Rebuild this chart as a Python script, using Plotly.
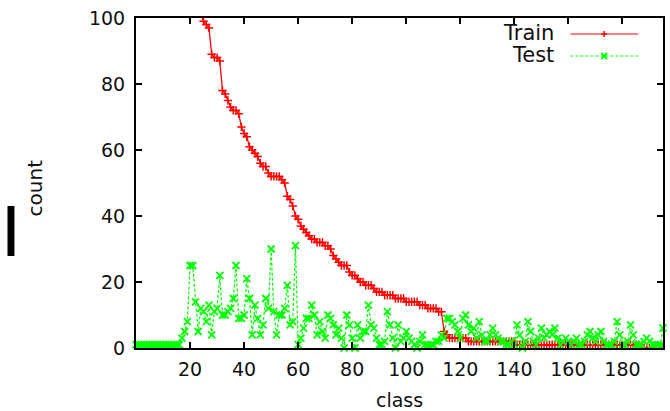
import plotly.graph_objects as go

# ---------------- data ----------------
classes = list(range(0, 196))

train = [
    450, 380, 330, 290, 260, 240, 220, 205, 190, 178,
    168, 158, 150, 143, 137, 131, 126, 121, 117, 113,
    110, 107, 104, 102, 101, 99, 98, 97, 89, 88,
    88, 87, 78, 77, 75, 73, 72, 72, 71, 67,
    65, 64, 61, 60, 59, 58, 56, 55, 55, 53,
    52, 52, 52, 52, 51, 50, 46, 45, 43, 40,
    39, 37, 36, 35, 34, 33, 33, 32, 32, 32,
    31, 31, 30, 28, 27, 26, 25, 25, 25, 23,
    22, 22, 21, 20, 20, 19, 19, 19, 18, 17,
    17, 17, 16, 16, 16, 16, 15, 15, 15, 15,
    14, 14, 14, 14, 14, 13, 13, 13, 12, 12,
    12, 12, 11, 11, 5, 4, 3, 3, 3, 3,
    3, 3, 3, 2, 2, 2, 2, 2, 2, 2,
    2, 2, 2, 2, 2, 2, 2, 2, 2, 2,
    2, 1, 1, 1, 1, 1, 1, 1, 1, 1,
    1, 1, 1, 1, 1, 1, 1, 1, 1, 1,
    1, 1, 1, 1, 1, 1, 1, 1, 1, 1,
    1, 1, 1, 1, 1, 1, 1, 1, 1, 1,
    1, 1, 1, 1, 1, 1, 1, 0, 0, 0,
    0, 0, 0, 0, 0, 0,
]

test = [
    1, 1, 1, 1, 1, 1, 1, 1, 1, 1,
    1, 1, 1, 1, 1, 1, 1, 3, 5, 8,
    25, 25, 14, 5, 12, 11, 8, 13, 4, 11,
    12, 22, 10, 10, 11, 12, 15, 25, 9, 9,
    10, 21, 15, 4, 13, 9, 4, 7, 15, 12,
    30, 11, 4, 10, 10, 12, 19, 7, 8, 31,
    1, 3, 6, 9, 9, 13, 10, 4, 8, 5,
    3, 10, 9, 7, 4, 6, 3, 0, 10, 7,
    3, 0, 7, 3, 5, 5, 13, 7, 6, 3,
    1, 1, 2, 11, 7, 3, 0, 7, 2, 3,
    5, 3, 2, 1, 0, 2, 4, 1, 1, 1,
    1, 2, 2, 4, 3, 9, 9, 8, 7, 5,
    3, 9, 10, 7, 5, 6, 3, 8, 4, 2,
    2, 4, 6, 4, 3, 2, 2, 1, 1, 2,
    1, 7, 4, 0, 2, 8, 5, 2, 1, 3,
    6, 3, 4, 5, 4, 6, 3, 1, 2, 3,
    2, 1, 2, 3, 1, 1, 2, 4, 5, 3,
    2, 4, 5, 2, 1, 1, 1, 2, 8, 4,
    1, 1, 2, 7, 4, 1, 1, 1, 2, 3,
    2, 1, 1, 1, 1, 6,
]

x_ticks = [20, 40, 60, 80, 100, 120, 140, 160, 180]
y_ticks = [0, 20, 40, 60, 80, 100]
series_names = ["Train", "Test"]

# ---------------- layout constants ----------------
W, H = 670, 411
ML, MR, MT, MB = 136, 5, 18, 63
PW, PH = W - ML - MR, H - MT - MB
FONT = "DejaVu Sans, Liberation Sans, Arial, sans-serif"
RED = "#ff0000"
GREEN = "#00ff00"


def px(xp):
    return (xp - ML) / PW


def py(yp):
    return (H - MB - yp) / PH


fig = go.Figure()

fig.add_trace(go.Scatter(
    x=classes, y=train, name=series_names[0], mode="lines+markers",
    line=dict(color=RED, width=1.3),
    marker=dict(symbol="cross-thin", size=6, line=dict(color=RED, width=1.5)),
    showlegend=False,
))
fig.add_trace(go.Scatter(
    x=classes, y=test, name=series_names[1], mode="lines+markers",
    line=dict(color=GREEN, width=1.2, dash="3px,2px"),
    marker=dict(symbol="x-thin", size=7, line=dict(color=GREEN, width=1.8)),
    cliponaxis=False, showlegend=False,
))

axis_common = dict(
    showline=True, linecolor="black", linewidth=2, mirror="allticks",
    ticks="inside", ticklen=6, tickwidth=2, tickcolor="black",
    showgrid=False, zeroline=False,
    tickfont=dict(family=FONT, size=19, color="#111111"),
)

fig.update_xaxes(range=[0, 195], tickvals=x_ticks, ticklabelstandoff=3, **axis_common)
fig.update_yaxes(range=[0, 100], tickvals=y_ticks, ticklabelstandoff=5, **axis_common)

shapes = []
annotations = []

# axis titles
annotations.append(dict(text="class", xref="paper", yref="paper",
                        x=px(400), y=py(400), xanchor="center", yanchor="middle",
                        showarrow=False, font=dict(family=FONT, size=19, color="#111111")))
annotations.append(dict(text="count", xref="paper", yref="paper",
                        x=px(35), y=py(188), xanchor="center", yanchor="middle",
                        textangle=-90, showarrow=False,
                        font=dict(family=FONT, size=20, color="#111111")))

# black bar artifact at left
shapes.append(dict(type="rect", xref="paper", yref="paper",
                   x0=px(7), x1=px(14), y0=py(256), y1=py(206),
                   fillcolor="black", line=dict(width=0)))

# manual gnuplot-style key (text left, sample right)
key_rows = [(series_names[0], 33, RED, "solid"), (series_names[1], 55, GREEN, "3px,2px")]
for name, yk, col, dash in key_rows:
    annotations.append(dict(text=name, xref="paper", yref="paper",
                            x=px(558), y=py(yk), xanchor="right", yanchor="middle",
                            showarrow=False, font=dict(family=FONT, size=21, color="#111111")))
    shapes.append(dict(type="line", xref="paper", yref="paper",
                       x0=px(572), x1=px(640), y0=py(yk + 1), y1=py(yk + 1),
                       line=dict(color=col, width=1, dash=dash)))
    if name == "Train":
        shapes.append(dict(type="line", xref="paper", yref="paper",
                           x0=px(603), x1=px(609), y0=py(yk + 1), y1=py(yk + 1),
                           line=dict(color=col, width=1.5)))
        shapes.append(dict(type="line", xref="paper", yref="paper",
                           x0=px(606), x1=px(606), y0=py(yk - 2), y1=py(yk + 4),
                           line=dict(color=col, width=1.5)))
    else:
        shapes.append(dict(type="line", xref="paper", yref="paper",
                           x0=px(603), x1=px(609), y0=py(yk - 2), y1=py(yk + 4),
                           line=dict(color=col, width=1.8)))
        shapes.append(dict(type="line", xref="paper", yref="paper",
                           x0=px(603), x1=px(609), y0=py(yk + 4), y1=py(yk - 2),
                           line=dict(color=col, width=1.8)))

fig.update_layout(
    width=W, height=H,
    margin=dict(l=ML, r=MR, t=MT, b=MB, pad=0),
    paper_bgcolor="white", plot_bgcolor="white",
    font=dict(family=FONT, color="#111111"),
    shapes=shapes, annotations=annotations,
    showlegend=False,
)

fig.write_html("out.html", config={"displayModeBar": False, "staticPlot": True},
               post_script="document.body.style.margin='0px';document.body.style.overflow='hidden';")
